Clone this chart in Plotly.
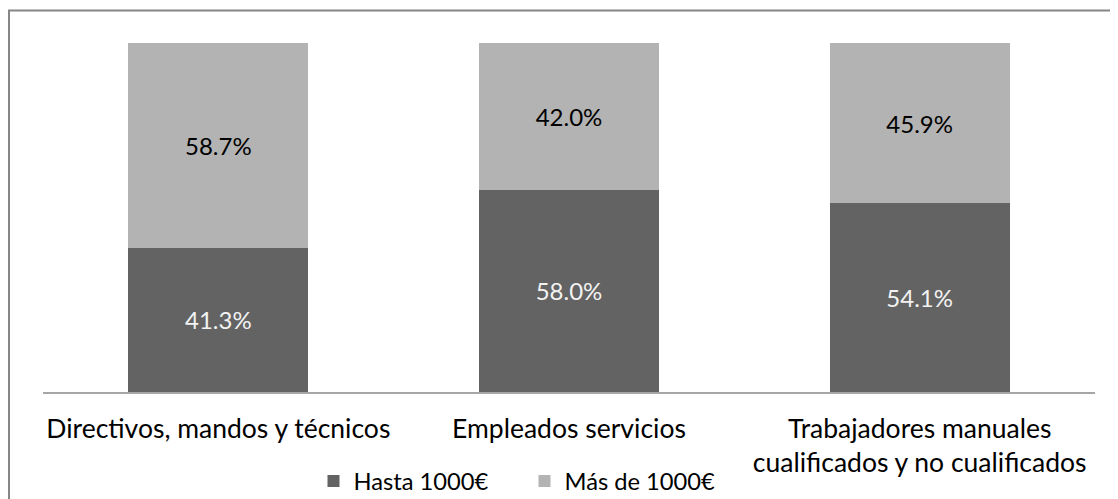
import plotly.graph_objects as go

categories = [
    "Directivos, mandos y técnicos",
    "Empleados servicios",
    "Trabajadores manuales<br>cualificados y no cualificados",
]
hasta_1000 = [41.3, 58.0, 54.1]
mas_1000 = [58.7, 42.0, 45.9]

font_family = "Lato"

fig = go.Figure()
fig.add_trace(go.Bar(
    x=categories, y=hasta_1000, name="Hasta 1000€",
    marker=dict(color="#636363", line=dict(width=0)),
    texttemplate="%{y:.1f}%", textposition="inside", insidetextanchor="middle",
    textangle=0, textfont=dict(color="#f2f2f2", size=24, family=font_family),
))
fig.add_trace(go.Bar(
    x=categories, y=mas_1000, name="Más de 1000€",
    marker=dict(color="#b3b3b3", line=dict(width=0)),
    texttemplate="%{y:.1f}%", textposition="inside", insidetextanchor="middle",
    textangle=0, textfont=dict(color="#000000", size=24, family=font_family),
))

# page body adds an 8px offset, so the figure is 1110x491
fig.update_layout(
    barmode="stack",
    bargap=0.487,
    width=1110, height=491,
    margin=dict(l=34.5, r=22.5, t=34.7, b=106.5, autoexpand=False),
    paper_bgcolor="white", plot_bgcolor="white",
    font=dict(family=font_family, size=24, color="#000000"),
    showlegend=True,
    legend=dict(orientation="h", x=0.4577, xanchor="center", y=-0.255, yanchor="middle",
                font=dict(size=23.7), traceorder="normal", itemwidth=30,
                entrywidth=166, bgcolor="rgba(0,0,0,0)"),
    uniformtext=dict(mode=False),
)
fig.update_xaxes(showline=True, linecolor="#a6a6a6", linewidth=1.5, ticks="",
                 showgrid=False, tickfont=dict(size=26.5), ticklabelstandoff=12)
fig.update_yaxes(range=[0, 100], visible=False, showgrid=False)

# outer chart frame (top and left edges visible)
fig.add_shape(type="path", xref="paper", yref="paper",
              path="M -0.0323,-0.35 L -0.0323,1.0929 L 1.03,1.0929",
              line=dict(color="#868686", width=2))

fig.write_html("out.html")
